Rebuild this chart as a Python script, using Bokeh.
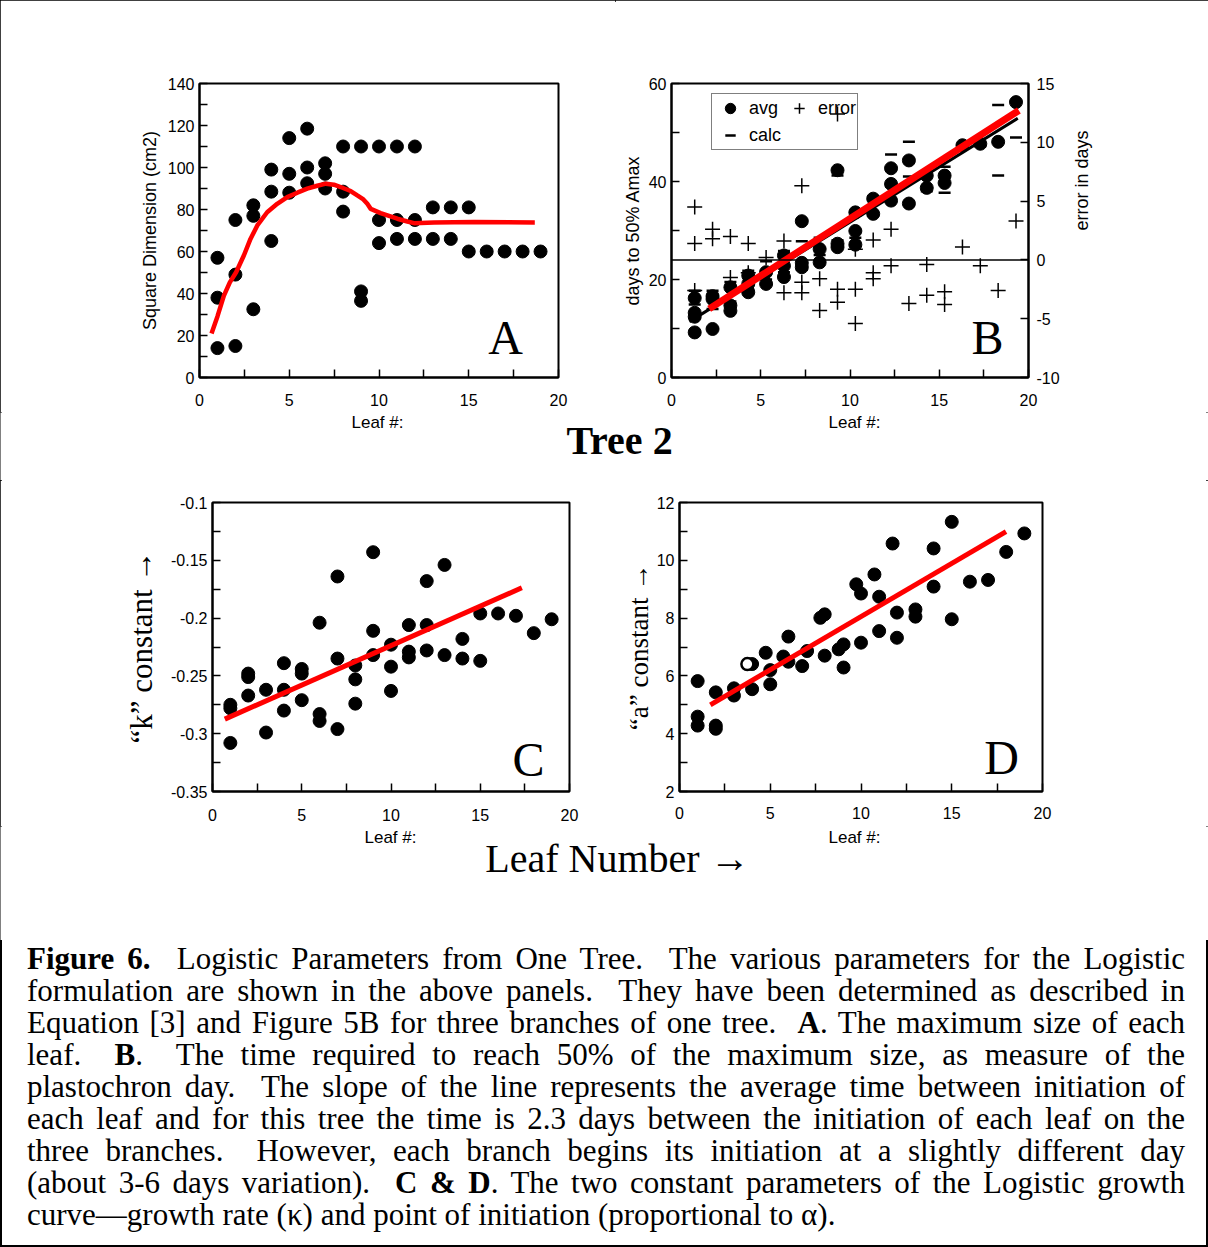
import math
from bokeh.plotting import figure
from bokeh.models import (FixedTicker, Range1d, LinearAxis, Span, Label, Legend,
                          LegendItem, Div, CustomJSTickFormatter)
from bokeh.layouts import column, row
from bokeh.embed import file_html
from bokeh.resources import INLINE

SANS = "Liberation Sans"
SERIF = "Liberation Serif"
RED = "#ff0000"

# ---------------- data ----------------
# Panel A: maximum leaf size
a_x = [1, 1, 1, 2, 2, 2, 3, 3, 3, 4, 4, 4, 5, 5, 5, 6, 6, 6, 7, 7, 7, 8, 8, 8,
       9, 9, 9, 10, 10, 10, 11, 11, 11, 12, 12, 12, 13, 13, 14, 14, 15, 15, 16, 17, 18, 19]
a_y = [57, 38, 14, 75, 49, 15, 82, 77, 32.5, 99, 88.5, 65, 114, 97, 88, 118.5, 100, 92.5,
       102, 97, 90, 110, 88.5, 79, 110, 41, 36.5, 110, 75, 64, 110, 75, 66, 110, 75, 66,
       81, 66, 81, 66, 81, 60, 60, 60, 60, 60]
a_fit_x = [0.67, 1.00, 1.36, 1.69, 2.04, 2.47, 2.84, 3.22, 3.77, 4.33, 4.89, 5.45, 6.00,
           6.56, 7.04, 7.49, 7.86, 8.42, 8.79, 9.13, 9.35, 9.54, 10.09, 11.02, 11.58,
           11.95, 13.07, 15.30, 18.68]
a_fit_y = [21.0, 29.1, 39.0, 45.3, 50.1, 58.1, 66.0, 72.4, 78.7, 82.7, 85.9, 88.0, 89.9,
           91.3, 92.3, 91.8, 90.7, 88.8, 86.7, 84.8, 82.7, 80.3, 78.3, 75.6, 74.3,
           73.5, 73.8, 74.0, 73.8]

# Panel B: days to 50% Amax
b_avg_x = [1.3, 1.3, 1.3, 1.3, 2.3, 2.3, 2.3, 3.3, 3.3, 3.3, 4.3, 4.3, 4.3, 5.3, 5.3,
           6.3, 6.3, 6.3, 7.3, 7.3, 7.3, 8.3, 8.3, 9.3, 9.3, 9.3, 10.3, 10.3, 10.3,
           11.3, 11.3, 12.3, 12.3, 12.3, 13.3, 13.3, 14.3, 14.3, 15.3, 15.3, 16.3,
           17.3, 18.3, 19.3]
b_avg_y = [16.2, 13.2, 12.4, 9.2, 16.6, 16.0, 9.9, 18.4, 14.7, 13.6, 20.8, 19.1, 17.4,
           21.5, 19.1, 24.9, 22.8, 20.5, 31.9, 23.4, 22.5, 26.2, 23.5, 42.3, 27.3, 26.6,
           33.7, 29.9, 27.1, 36.5, 33.4, 42.7, 39.5, 36.1, 44.3, 35.5, 41.2, 38.7,
           41.2, 39.7, 47.4, 47.7, 48.1, 56.2]
b_err_x = [1.3, 1.3, 1.3, 2.3, 2.3, 3.3, 3.3, 4.3, 4.3, 5.3, 6.3, 6.3, 7.3, 7.3, 7.3,
           8.3, 8.3, 9.3, 9.3, 9.3, 10.3, 10.3, 10.3, 11.3, 11.3, 11.3, 12.3, 12.3,
           13.3, 14.3, 14.3, 15.3, 15.3, 16.3, 17.3, 18.3, 19.3]
b_err_y = [4.5, 1.4, -2.6, 2.6, 1.8, 2.0, -1.5, 1.4, -1.1, 0.2, 1.6, -2.8, 6.3, -1.9,
           -2.8, -1.6, -4.3, 12.4, -2.5, -3.6, 0.9, -2.5, -5.4, 1.7, -1.1, -1.6, 2.6,
           -0.5, -3.7, -0.4, -3.0, -2.7, -3.8, 1.1, -0.5, -2.6, 3.3]
b_calc_x = [1.3, 1.3, 1.3, 2.3, 2.3, 3.3, 3.3, 4.3, 4.3, 5.3, 5.3, 6.3, 6.3, 7.3, 7.3,
            8.3, 8.3, 9.3, 9.3, 10.3, 10.3, 11.3, 11.3, 12.3, 12.3, 13.3, 13.3, 14.3,
            14.3, 15.3, 15.3, 16.3, 17.3, 18.3, 18.3, 19.3]
b_calc_y = [17.7, 14.9, 12.1, 17.7, 14.0, 19.5, 15.5, 21.8, 18.0, 23.7, 20.0, 25.8, 21.5,
            27.8, 22.0, 28.5, 25.0, 41.2, 28.0, 33.0, 28.5, 37.0, 33.0, 45.5, 39.0,
            48.1, 41.0, 42.0, 38.0, 43.0, 37.7, 46.8, 47.2, 55.6, 41.2, 49.0]
b_fit_x = [2.11, 19.46]
b_fit_y = [14.0, 54.5]
b_calc_line_x = [1.0, 19.4]
b_calc_line_y = [11.4, 52.9]

# Panel C: "k" constant
c_x = [1, 1, 1, 2, 2, 2, 3, 3, 4, 4, 4, 5, 5, 5, 6, 6, 6, 7, 7, 7, 8, 8, 8, 9, 9, 9,
       10, 10, 10, 11, 11, 11, 12, 12, 12, 13, 13, 14, 14, 15, 15, 16, 17, 18, 19]
c_y = [-0.275, -0.278, -0.308, -0.248, -0.251, -0.267, -0.262, -0.299, -0.239, -0.262,
       -0.280, -0.244, -0.248, -0.271, -0.204, -0.283, -0.289, -0.164, -0.235, -0.296,
       -0.241, -0.253, -0.274, -0.143, -0.211, -0.232, -0.223, -0.242, -0.263, -0.206,
       -0.229, -0.234, -0.168, -0.206, -0.228, -0.154, -0.232, -0.218, -0.235, -0.196,
       -0.237, -0.196, -0.198, -0.213, -0.201]
c_fit_x = [0.69, 17.33]
c_fit_y = [-0.2874, -0.1738]

# Panel D: "a" constant
d_x = [1, 1, 1, 2, 2, 2, 3, 3, 4.0, 4.0, 4.75, 5, 5, 5.72, 6, 6, 6.76, 7.03, 7.76, 8, 8,
       8.77, 9.04, 9.04, 9.74, 10, 10, 10.74, 11, 11, 11.74, 11.98, 11.98, 13, 13, 14,
       14, 15, 15, 16, 17, 18, 19]
d_y = [5.82, 4.59, 4.28, 5.43, 4.28, 4.17, 5.57, 5.32, 6.41, 5.54, 6.80, 6.2, 5.71, 6.67,
       7.36, 6.49, 6.34, 6.86, 8.01, 8.13, 6.70, 6.92, 7.09, 6.29, 9.17, 8.85, 7.15,
       9.51, 8.74, 7.55, 10.58, 8.19, 7.32, 8.30, 8.05, 10.41, 9.09, 11.33, 7.96, 9.26,
       9.32, 10.29, 10.93]
d_open_x = [3.74]
d_open_y = [6.41]
d_fit_x = [1.70, 17.99]
d_fit_y = [5.0, 10.99]

x_ticks = [0, 5, 10, 15, 20]
x_minor = [2.5, 7.5, 12.5, 17.5]
x_title = "Leaf #:"

caption_lines = [
    "<b>Figure 6.</b>&nbsp; Logistic Parameters from One Tree.&nbsp; The various parameters for the Logistic",
    "formulation are shown in the above panels.&nbsp; They have been determined as described in",
    "Equation [3] and Figure 5B for three branches of one tree.&nbsp; <b>A</b>. The maximum size of each",
    "leaf.&nbsp; <b>B</b>.&nbsp; The time required to reach 50% of the maximum size, as measure of the",
    "plastochron day.&nbsp; The slope of the line represents the average time between initiation of",
    "each leaf and for this tree the time is 2.3 days between the initiation of each leaf on the",
    "three branches.&nbsp; However, each branch begins its initiation at a slightly different day",
    "(about 3-6 days variation).&nbsp; <b>C &amp; D</b>. The two constant parameters of the Logistic growth",
    "curve\u2014growth rate (\u03ba) and point of initiation (proportional to \u03b1).",
]


# ---------------- helpers ----------------
def style_axis(ax, ticks, minor, standoff=5, label_standoff=5, label_font=SANS,
               label_size="18px"):
    ax.ticker = FixedTicker(ticks=ticks, minor_ticks=minor)
    ax.formatter = CustomJSTickFormatter(code="return tick.toString();")
    ax.major_tick_in = 8
    ax.major_tick_out = 0
    ax.minor_tick_in = 8
    ax.minor_tick_out = 0
    ax.major_tick_line_width = 1.5
    ax.minor_tick_line_width = 1.5
    ax.major_tick_line_color = "black"
    ax.minor_tick_line_color = "black"
    ax.axis_line_width = 2
    ax.axis_line_color = "black"
    ax.major_label_text_font = SANS
    ax.major_label_text_font_size = "16px"
    ax.major_label_text_color = "black"
    ax.major_label_standoff = standoff
    ax.axis_label_text_font = label_font
    ax.axis_label_text_font_size = label_size
    ax.axis_label_text_font_style = "normal"
    ax.axis_label_text_color = "black"
    ax.axis_label_standoff = label_standoff


def make_fig(w, h, left, right, top, bottom, yr):
    p = figure(width=w, height=h, x_range=Range1d(0, 20), y_range=Range1d(*yr),
               output_backend="svg", toolbar_location=None,
               min_border_left=left, min_border_right=right,
               min_border_top=top, min_border_bottom=bottom)
    p.grid.visible = False
    p.outline_line_color = "black"
    p.outline_line_width = 2
    p.outline_line_alpha = 1
    p.background_fill_color = "white"
    p.border_fill_color = "white"
    return p


def panel_letter(p, x, y, txt):
    p.add_layout(Label(x=x, y=y, text=txt, text_font=SERIF, text_font_size="48px",
                       text_align="center", text_baseline="alphabetic",
                       text_color="black"))


def text_band(w, h):
    p = figure(width=w, height=h, x_range=Range1d(0, w), y_range=Range1d(0, h),
               output_backend="svg", toolbar_location=None,
               x_axis_type=None, y_axis_type=None,
               min_border_left=0, min_border_right=0, min_border_top=0,
               min_border_bottom=0)
    p.grid.visible = False
    p.outline_line_color = None
    p.background_fill_color = "white"
    p.border_fill_color = "white"
    return p


def band_text(p, x, y, txt, font, size, bold=False):
    p.add_layout(Label(x=x, y=y, text=txt, text_font=font, text_font_size=size,
                       text_font_style="bold" if bold else "normal",
                       text_align="center", text_baseline="alphabetic",
                       text_color="black"))


# ---------------- Panel A ----------------
pa = make_fig(615, 412, 199, 57, 83, 35, (0, 140))
style_axis(pa.xaxis[0], x_ticks, x_minor, standoff=16)
style_axis(pa.yaxis[0], [0, 20, 40, 60, 80, 100, 120, 140],
           [10, 30, 50, 70, 90, 110, 130], standoff=5, label_standoff=5)
pa.yaxis[0].axis_label = "Square Dimension (cm2)"
pa.scatter(a_x, a_y, marker="circle", size=13, fill_color="black", line_color="black")
pa.line(a_fit_x, a_fit_y, line_color=RED, line_width=4.5)
panel_letter(pa, 17.05, 19.1, "A")

# ---------------- Panel B ----------------
pb = make_fig(593, 412, 56, 180, 83, 35, (0, 60))
pb.extra_y_ranges = {"err": Range1d(-10, 15)}
style_axis(pb.xaxis[0], x_ticks, x_minor, standoff=16)
style_axis(pb.yaxis[0], [0, 20, 40, 60], [10, 30, 50], standoff=5, label_standoff=3)
pb.yaxis[0].axis_label = "days to 50% Amax"
rax = LinearAxis(y_range_name="err")
style_axis(rax, [-10, -5, 0, 5, 10, 15], [], standoff=8, label_standoff=19)
rax.axis_label = "error in days"
try:
    rax.axis_label_orientation = math.pi / 2
except Exception:
    pass
pb.add_layout(rax, "right")
pb.add_layout(Span(location=0, dimension="width", y_range_name="err",
                   line_color="black", line_width=1.5))
r_calc = pb.scatter(b_calc_x, b_calc_y, marker="dash", size=12, line_color="black",
                    line_width=2.5)
r_avg = pb.scatter(b_avg_x, b_avg_y, marker="circle", size=13, fill_color="black",
                   line_color="black")
r_err = pb.scatter(b_err_x, b_err_y, marker="cross", size=15, line_color="black",
                   line_width=1.5, y_range_name="err")
pb.line(b_calc_line_x, b_calc_line_y, line_color="black", line_width=3)
pb.line(b_fit_x, b_fit_y, line_color=RED, line_width=7)
panel_letter(pb, 17.7, 8.16, "B")
leg = Legend(items=[LegendItem(label="avg", renderers=[r_avg]),
                    LegendItem(label="error", renderers=[r_err]),
                    LegendItem(label="calc", renderers=[r_calc])],
             location=(40, 227), orientation="horizontal", ncols=2,
             label_text_font=SANS, label_text_font_size="18px",
             label_text_color="black", border_line_color="black",
             border_line_width=1.5, background_fill_alpha=0,
             padding=1, spacing=1, glyph_width=34, glyph_height=26,
             label_height=20, label_standoff=2, margin=0)
pb.add_layout(leg)

# ---------------- Panel C ----------------
pc = make_fig(620, 346, 212, 51, 14, 35, (-0.35, -0.1))
style_axis(pc.xaxis[0], x_ticks, x_minor, standoff=17)
style_axis(pc.yaxis[0], [-0.35, -0.3, -0.25, -0.2, -0.15, -0.1],
           [-0.325, -0.275, -0.225, -0.175, -0.125], standoff=5, label_standoff=9,
           label_font=SERIF, label_size="31px")
pc.yaxis[0].axis_label = "\u201ck\u201d constant \u2192"
pc.scatter(c_x, c_y, marker="circle", size=13, fill_color="black", line_color="black")
pc.line(c_fit_x, c_fit_y, line_color=RED, line_width=5)
panel_letter(pc, 17.7, -0.3222, "C")

# ---------------- Panel D ----------------
pd_ = make_fig(588, 346, 57, 166, 22, 34, (2, 12))
style_axis(pd_.xaxis[0], x_ticks, x_minor, standoff=15)
style_axis(pd_.yaxis[0], [2, 4, 6, 8, 10, 12], [3, 5, 7, 9, 11], standoff=5,
           label_standoff=0, label_font=SERIF, label_size="27px")
pd_.yaxis[0].axis_label = "\u201ca\u201d constant \u2192"
pd_.scatter(d_x, d_y, marker="circle", size=13, fill_color="black", line_color="black")
pd_.scatter(d_open_x, d_open_y, marker="circle", size=12, fill_color="white",
            line_color="black", line_width=2.5)
pd_.line(d_fit_x, d_fit_y, line_color=RED, line_width=5)
panel_letter(pd_, 17.75, 3.17, "D")

# ---------------- text bands ----------------
band1 = text_band(1208, 68)
band_text(band1, 377, 58, x_title, SANS, "17px")
band_text(band1, 854, 58, x_title, SANS, "17px")
band_text(band1, 619, 40, "Tree 2", SERIF, "40px", bold=True)

band2 = text_band(1208, 114)
band_text(band2, 390, 103, x_title, SANS, "17px")
band_text(band2, 854, 103, x_title, SANS, "17px")
band_text(band2, 617, 82, "Leaf Number \u2192", SERIF, "40px")

body = ""
for i, ln in enumerate(caption_lines):
    last = "justify" if i < len(caption_lines) - 1 else "left"
    body += ('<div style="height:32px;white-space:nowrap;text-align:justify;'
             'text-align-last:%s;">%s</div>' % (last, ln))
html = ('<div style="width:1208px;box-sizing:border-box;padding:3px 23px 0 27px;'
        "font-family:'Liberation Serif',serif;font-size:31px;line-height:32px;"
        'color:#000;">' + body + '</div>')
cap = Div(text=html, width=1208, height=307, margin=(0, 0, 0, 0))

layout = column(row(pa, pb), band1, row(pc, pd_), band2, cap,
                styles={"outline": "2px solid black", "outline-offset": "-2px"})

open("out.html", "w").write(file_html(layout, INLINE))
